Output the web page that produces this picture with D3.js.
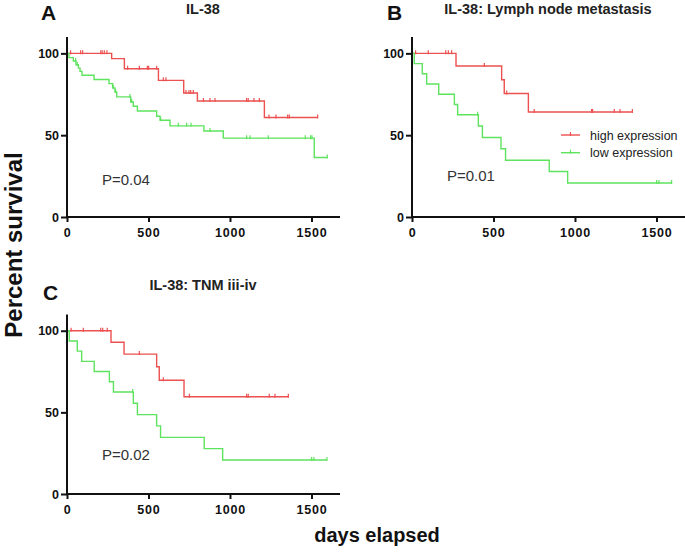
<!DOCTYPE html>
<html>
<head>
<meta charset="utf-8">
<script src="https://cdn.jsdelivr.net/npm/d3@7"></script>
<style>
  body { margin: 0; background: #fff; }
  svg { display: block; font-family: "Liberation Sans", Arial, sans-serif; }
</style>
</head>
<body>
<svg id="chart" width="685" height="559"></svg>
<script>
// Kaplan-Meier step data: event times (days), survival after each time (%), last follow-up, censor times
var aHighT = [0, 274, 352, 561, 716, 800, 1211];
var aHighS = [100, 96.8, 90.6, 83.5, 75.8, 70.9, 60.8];
var aHighEnd = 1538;
var aHighCens = [22, 84, 96, 207, 216, 229, 245, 372, 444, 493, 501, 550, 591, 607, 730, 748, 759, 775, 837, 877, 908, 1102, 1112, 1147, 1180, 1239, 1282, 1354, 1364, 1538];

var aLowT = [0, 12, 39, 55, 70, 80, 92, 166, 258, 280, 294, 305, 391, 407, 432, 550, 571, 632, 840, 959, 1517];
var aLowS = [100, 97.4, 95.3, 93, 91, 89, 86.6, 84, 81.5, 78.9, 76.4, 73.4, 70.3, 67.7, 64.8, 61.6, 59.1, 55.7, 52.6, 48.2, 36.4];
var aLowEnd = 1597;
var aLowCens = [53, 63, 284, 298, 386, 397, 575, 683, 734, 761, 877, 1102, 1123, 1235, 1462, 1495, 1503, 1597];

var bHighT = [0, 270, 550, 566, 714];
var bHighS = [100, 92.3, 83.9, 75.5, 64.2];
var bHighEnd = 1352;
var bHighCens = [22, 100, 207, 223, 243, 444, 581, 750, 1102, 1108, 1241, 1276, 1352];

var bLowT = [0, 14, 63, 90, 164, 260, 280, 407, 432, 546, 574, 842, 955];
var bLowS = [100, 93.75, 87.5, 81.25, 75, 68.75, 62.5, 55.6, 48.6, 41.7, 34.7, 27.8, 20.8];
var bLowEnd = 1593;
var bLowCens = [403, 1501, 1515, 1593];

var cHighT = [0, 270, 350, 550, 566, 718];
var cHighS = [100, 92.9, 85.7, 77.9, 69.7, 59.6];
var cHighEnd = 1358;
var cHighCens = [25, 100, 207, 219, 247, 444, 591, 751, 1102, 1112, 1241, 1276, 1358];

var cLowT = [0, 14, 63, 90, 167, 260, 285, 407, 432, 550, 574, 842, 955];
var cLowS = [100, 93.75, 87.5, 81.25, 75, 68.75, 62.5, 55.6, 48.6, 41.7, 34.7, 27.8, 20.8];
var cLowEnd = 1595;
var cLowCens = [403, 1501, 1515, 1595];

var xTicks = [0, 500, 1000, 1500];
var yTicks = [0, 50, 100];
var legendLabels = ['high expression', 'low expression'];

var red = '#ec5050', green = '#5ee35e';

var svg = d3.select('#chart');

function panel(opt) {
  var x = d3.scaleLinear().domain([0, 1675]).range([opt.left, opt.left + 273]);
  var y = d3.scaleLinear().domain([0, 110]).range([opt.bottom, opt.bottom - opt.h]);
  var g = svg.append('g');

  // curves
  opt.curves.forEach(function(c) {
    var pts = c.t.map(function(t, i) { return [t, c.s[i]]; });
    pts.push([c.end, c.s[c.s.length - 1]]);
    var line = d3.line().x(function(d) { return x(d[0]); }).y(function(d) { return y(d[1]); })
      .curve(d3.curveStepAfter);
    g.append('path').attr('d', line(pts)).attr('fill', 'none')
      .attr('stroke', c.color).attr('stroke-width', 1.4);

    var step = function(t) {
      var i = d3.bisectRight(c.t, t) - 1;
      return c.s[Math.max(0, i)];
    };
    g.selectAll(null).data(c.cens).enter().append('line')
      .attr('x1', function(d) { return x(d); }).attr('x2', function(d) { return x(d); })
      .attr('y1', function(d) { return y(step(d)) - 3; })
      .attr('y2', function(d) { return y(step(d)) + 1; })
      .attr('stroke', c.color).attr('stroke-width', 1.2);
  });

  // axes
  var xa = g.append('g').attr('transform', 'translate(0,' + opt.bottom + ')')
    .call(d3.axisBottom(x).tickValues(xTicks).tickFormat(d3.format('d')).tickSize(5).tickPadding(6));
  var ya = g.append('g').attr('transform', 'translate(' + opt.left + ',0)')
    .call(d3.axisLeft(y).tickValues(yTicks).tickFormat(d3.format('d')).tickSize(6).tickPadding(2));
  [xa, ya].forEach(function(a) {
    a.select('.domain').attr('stroke', '#111').attr('stroke-width', 2)
      .attr('d', a === xa ? 'M' + (opt.left - 1) + ',0H' + (opt.left + 273)
                          : 'M0,' + y(0) + 'V' + y(110));
    a.selectAll('.tick line').attr('stroke', '#111').attr('stroke-width', 2);
    a.selectAll('.tick text').attr('fill', '#111').attr('font-size', 12.5)
      .attr('font-weight', 'bold').attr('font-family', '"Liberation Sans", Arial, sans-serif');
  });
  xa.selectAll('.tick text').attr('letter-spacing', 0.8);

  g.append('text').attr('x', x(0) + 136).attr('y', opt.titleY).attr('text-anchor', 'middle')
    .attr('font-size', 14.5).attr('font-weight', 'bold').attr('fill', '#222').text(opt.title);
  g.append('text').attr('x', opt.letterX).attr('y', opt.letterY)
    .attr('font-size', 21).attr('font-weight', 'bold').attr('fill', '#111').text(opt.letter);
  g.append('text').attr('x', x(0) + 35).attr('y', opt.bottom - opt.pOff)
    .attr('font-size', 15).attr('fill', '#333').text(opt.p);

  if (opt.legend) {
    [red, green].forEach(function(col, i) {
      var ly = 135 + i * 17.7;
      g.append('line').attr('x1', 561).attr('x2', 580).attr('y1', ly).attr('y2', ly)
        .attr('stroke', col).attr('stroke-width', 1.4);
      g.append('line').attr('x1', 570.5).attr('x2', 570.5).attr('y1', ly - 3).attr('y2', ly + 1)
        .attr('stroke', col).attr('stroke-width', 1.2);
      g.append('text').attr('x', 590).attr('y', ly + 4.5).attr('font-size', 12.5)
        .attr('fill', '#222').text(legendLabels[i]);
    });
  }
}

panel({ left: 67, bottom: 217, h: 180, title: 'IL-38', titleY: 14, letter: 'A', letterX: 41, letterY: 20,
  p: 'P=0.04', pOff: 32,
  curves: [
    { t: aHighT, s: aHighS, end: aHighEnd, cens: aHighCens, color: red },
    { t: aLowT, s: aLowS, end: aLowEnd, cens: aLowCens, color: green }
  ] });

panel({ left: 412, bottom: 217, h: 180, title: 'IL-38: Lymph node metastasis', titleY: 14, letter: 'B', letterX: 387, letterY: 20,
  p: 'P=0.01', pOff: 36, legend: true,
  curves: [
    { t: bHighT, s: bHighS, end: bHighEnd, cens: bHighCens, color: red },
    { t: bLowT, s: bLowS, end: bLowEnd, cens: bLowCens, color: green }
  ] });

panel({ left: 67, bottom: 494, h: 179.6, title: 'IL-38: TNM iii-iv', titleY: 290, letter: 'C', letterX: 43, letterY: 300,
  p: 'P=0.02', pOff: 34,
  curves: [
    { t: cHighT, s: cHighS, end: cHighEnd, cens: cHighCens, color: red },
    { t: cLowT, s: cLowS, end: cLowEnd, cens: cLowCens, color: green }
  ] });

svg.append('text').attr('transform', 'translate(22,245) rotate(-90)').attr('text-anchor', 'middle')
  .attr('font-size', 24).attr('font-weight', 'bold').attr('fill', '#111').text('Percent survival');
svg.append('text').attr('x', 377).attr('y', 542).attr('text-anchor', 'middle')
  .attr('font-size', 20).attr('font-weight', 'bold').attr('fill', '#111').text('days elapsed');
</script>
</body>
</html>
